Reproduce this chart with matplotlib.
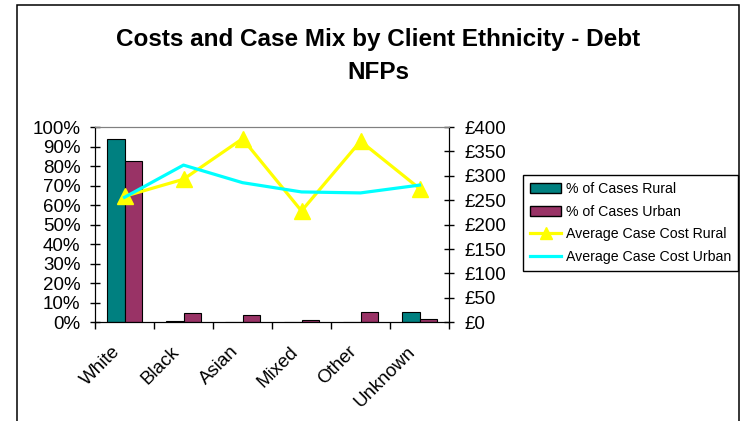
import matplotlib.pyplot as plt
import matplotlib.transforms as mtransforms
import numpy as np
from matplotlib.patches import Rectangle
from matplotlib.lines import Line2D
from matplotlib.ticker import FuncFormatter, MultipleLocator

plt.rcParams['font.family'] = ['Liberation Sans', 'DejaVu Sans']

ethnicity = ['White', 'Black', 'Asian', 'Mixed', 'Other', 'Unknown']
pct_rural = [0.936, 0.005, 0.0, 0.0, 0.0, 0.054]
pct_urban = [0.826, 0.049, 0.036, 0.012, 0.054, 0.017]
cost_rural = [258, 293, 376, 228, 371, 274]
cost_urban = [256, 322, 286, 267, 265, 281]

fig = plt.figure(figsize=(7.45, 4.21), dpi=100)

# outer chart frame
fig.patches.append(Rectangle((17 / 745, -0.05), (739 - 17) / 745, 1.05 - 5 / 421,
                             transform=fig.transFigure, fill=False,
                             edgecolor='black', linewidth=1.1))

ax = fig.add_axes([95 / 745, 1 - 322.3 / 421, (449 - 95) / 745, (322.3 - 127) / 421])
ax2 = ax.twinx()

x = np.arange(len(ethnicity))
w = 0.29
ax.bar(x - w / 2, pct_rural, w, color='#008080', edgecolor='black', linewidth=0.8,
       label='% of Cases Rural')
ax.bar(x + w / 2, pct_urban, w, color='#993366', edgecolor='black', linewidth=0.8,
       label='% of Cases Urban')

ax2.plot(x, cost_rural, color='#FFFF00', linewidth=2.3, marker='^', markersize=11,
         label='Average Case Cost Rural')
ax2.plot(x, cost_urban, color='#00FFFF', linewidth=2.3, label='Average Case Cost Urban')

ax.set_xlim(-0.5, len(ethnicity) - 0.5)
ax.set_ylim(0, 1)
ax2.set_ylim(0, 400)

ax.yaxis.set_major_locator(MultipleLocator(0.1))
ax.yaxis.set_major_formatter(FuncFormatter(lambda v, p: f'{v * 100:.0f}%'))
ax2.yaxis.set_major_locator(MultipleLocator(50))
ax2.yaxis.set_major_formatter(FuncFormatter(lambda v, p: f'£{v:.0f}'))

ax.set_xticks(x)
ax.set_xticklabels(ethnicity, rotation=45, ha='right', va='top', rotation_mode='anchor')
ax.set_xticks(np.arange(len(ethnicity) + 1) - 0.5, minor=True)
ax.tick_params(axis='x', which='major', length=0, pad=15, labelsize=13.5)
ax.tick_params(axis='x', which='minor', length=5, direction='out', width=1)
ax.tick_params(axis='y', direction='inout', length=7, width=1, labelsize=13.5, pad=7)
ax2.tick_params(axis='y', direction='inout', length=7, width=1, labelsize=13.5, pad=7.5)

shift = mtransforms.ScaledTranslation(-9 / 72, 0, fig.dpi_scale_trans)
for lbl in ax.get_xticklabels():
    lbl.set_transform(lbl.get_transform() + shift)

for a in (ax, ax2):
    a.spines['top'].set_color('#808080')
    a.spines['left'].set_color('black')
    a.spines['right'].set_color('black')
    a.spines['bottom'].set_color('black')

fig.text(378 / 745, 1 - 56 / 421, 'Costs and Case Mix by Client Ethnicity - Debt\nNFPs',
         ha='center', va='center', fontsize=17.5, fontweight='bold', linespacing=1.55)

handles = [Rectangle((0, 0), 1, 1, facecolor='#008080', edgecolor='black'),
           Rectangle((0, 0), 1, 1, facecolor='#993366', edgecolor='black'),
           Line2D([], [], color='#FFFF00', linewidth=2.3, marker='^', markersize=8),
           Line2D([], [], color='#00FFFF', linewidth=2.3)]
labels = ['% of Cases Rural', '% of Cases Urban', 'Average Case Cost Rural',
          'Average Case Cost Urban']
leg = fig.legend(handles, labels, loc='upper left',
                 bbox_to_anchor=(523 / 745, 1 - 175 / 421), fontsize=10.2,
                 frameon=True, fancybox=False, edgecolor='black', framealpha=1,
                 borderpad=0.5, labelspacing=0.6, handlelength=2.2, handletextpad=0.3,
                 borderaxespad=0)
leg.get_frame().set_linewidth(1)

plt.savefig('out.png', dpi=100)
